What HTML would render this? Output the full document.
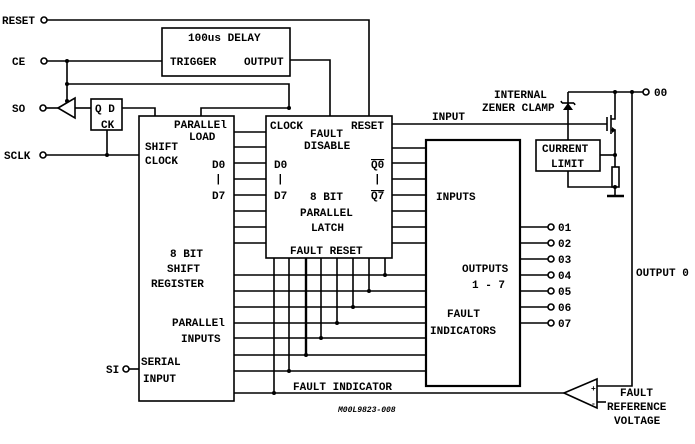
<!DOCTYPE html>
<html><head><style>
html,body{margin:0;padding:0;background:#fff}
svg text{font-family:"Liberation Mono",monospace;font-weight:bold;font-size:11px;fill:#000}
</style></head><body>
<svg width="695" height="439" viewBox="0 0 695 439" xmlns="http://www.w3.org/2000/svg">
<g stroke="#000" stroke-width="1.6" fill="none">
<!-- RESET -->
<circle cx="44" cy="20" r="3"/>
<polyline points="47,20 369,20 369,116"/>
<!-- delay box -->
<rect x="162" y="28" width="128" height="48"/>
<polyline points="290,60 330,60 330,116"/>
<!-- CE -->
<circle cx="44" cy="61" r="3"/>
<line x1="47" y1="61" x2="162" y2="61"/>
<line x1="67" y1="61" x2="67" y2="101"/>
<polyline points="67,84 289,84 289,108"/>
<!-- SO -->
<circle cx="43" cy="108" r="3"/>
<line x1="46" y1="108" x2="58" y2="108"/>
<polygon points="58,108 75,98 75,118"/>
<line x1="75" y1="108" x2="91" y2="108"/>
<rect x="91" y="99" width="31" height="31"/>
<polyline points="122,108 155,108 155,116"/>
<line x1="107" y1="130" x2="107" y2="155"/>
<!-- SCLK -->
<circle cx="43" cy="155" r="3"/>
<line x1="46" y1="155" x2="139" y2="155"/>
<polyline points="201,116 201,108 289,108"/>
<!-- shift register -->
<rect x="139" y="116" width="95" height="285"/>
<!-- latch -->
<rect x="266" y="116" width="126" height="142"/>
<!-- SR to latch -->
<line x1="234" y1="132" x2="266" y2="132"/>
<line x1="234" y1="147" x2="266" y2="147"/>
<line x1="234" y1="163" x2="266" y2="163"/>
<line x1="234" y1="179" x2="266" y2="179"/>
<line x1="234" y1="195" x2="266" y2="195"/>
<line x1="234" y1="211" x2="266" y2="211"/>
<line x1="234" y1="227" x2="266" y2="227"/>
<line x1="234" y1="243" x2="266" y2="243"/>
<!-- latch to fault box -->
<line x1="392" y1="148" x2="426" y2="148"/>
<line x1="392" y1="163" x2="426" y2="163"/>
<line x1="392" y1="179" x2="426" y2="179"/>
<line x1="392" y1="195" x2="426" y2="195"/>
<line x1="392" y1="211" x2="426" y2="211"/>
<line x1="392" y1="227" x2="426" y2="227"/>
<line x1="392" y1="243" x2="426" y2="243"/>
<!-- fault box -->
<rect x="426" y="140" width="94" height="246" stroke-width="2.2"/>
<!-- INPUT line -->
<line x1="392" y1="124" x2="607" y2="124"/>
<!-- SR to fault lines -->
<line x1="234" y1="275" x2="426" y2="275"/>
<line x1="234" y1="291" x2="426" y2="291"/>
<line x1="234" y1="307" x2="426" y2="307"/>
<line x1="234" y1="323" x2="426" y2="323"/>
<line x1="234" y1="338" x2="426" y2="338"/>
<line x1="234" y1="355" x2="426" y2="355"/>
<line x1="234" y1="371" x2="426" y2="371"/>
<!-- verticals from latch -->
<line x1="274" y1="258" x2="274" y2="393"/>
<line x1="289" y1="258" x2="289" y2="371"/>
<line x1="306" y1="258" x2="306" y2="355" stroke-width="2.4"/>
<line x1="321" y1="258" x2="321" y2="338"/>
<line x1="337" y1="258" x2="337" y2="323"/>
<line x1="353" y1="258" x2="353" y2="307"/>
<line x1="369" y1="258" x2="369" y2="291"/>
<line x1="385" y1="258" x2="385" y2="275"/>
<!-- fault indicator line -->
<line x1="234" y1="393" x2="564" y2="393"/>
<polygon points="564,393 597,379 597,408"/>
<polyline points="597,386 632,386 632,92"/>
<line x1="597" y1="402" x2="606" y2="402"/>
<!-- SI -->
<circle cx="126" cy="369" r="3"/>
<line x1="129" y1="369" x2="139" y2="369"/>
<!-- outputs -->
<line x1="520" y1="227" x2="548" y2="227"/><circle cx="551" cy="227" r="3"/>
<line x1="520" y1="243" x2="548" y2="243"/><circle cx="551" cy="243" r="3"/>
<line x1="520" y1="259" x2="548" y2="259"/><circle cx="551" cy="259" r="3"/>
<line x1="520" y1="275" x2="548" y2="275"/><circle cx="551" cy="275" r="3"/>
<line x1="520" y1="291" x2="548" y2="291"/><circle cx="551" cy="291" r="3"/>
<line x1="520" y1="307" x2="548" y2="307"/><circle cx="551" cy="307" r="3"/>
<line x1="520" y1="323" x2="548" y2="323"/><circle cx="551" cy="323" r="3"/>
<!-- right circuit -->
<line x1="568" y1="92" x2="643" y2="92"/>
<circle cx="646" cy="92" r="3"/>
<line x1="568" y1="92" x2="568" y2="140"/>
<line x1="562" y1="103" x2="574" y2="103"/>
<line x1="561" y1="101" x2="562" y2="103"/>
<line x1="574" y1="103" x2="575" y2="105"/>
<line x1="607" y1="117" x2="607" y2="131"/>
<line x1="611" y1="115" x2="611" y2="134"/>
<polyline points="611,119 615,119 615,92"/>
<polyline points="611,130 615,130 615,167"/>
<rect x="612" y="167" width="7" height="20"/>
<line x1="615" y1="187" x2="615" y2="195"/>
<line x1="607" y1="196" x2="624" y2="196" stroke-width="2.5"/>
<rect x="536" y="140" width="64" height="31"/>
<line x1="600" y1="155" x2="615" y2="155"/>
<polyline points="568,171 568,187 615,187"/>
</g>
<g fill="#000">
<polygon points="563,110 573,110 568,103"/>
<polygon points="612,127 616,130 612,133"/>
<circle cx="67" cy="61" r="2"/><circle cx="67" cy="84" r="2"/><circle cx="67" cy="101" r="2"/>
<circle cx="289" cy="108" r="2"/><circle cx="107" cy="155" r="2"/>
<circle cx="274" cy="393" r="2"/><circle cx="289" cy="371" r="2"/><circle cx="306" cy="355" r="2"/>
<circle cx="321" cy="338" r="2"/><circle cx="337" cy="323" r="2"/><circle cx="353" cy="307" r="2"/>
<circle cx="369" cy="291" r="2"/><circle cx="385" cy="275" r="2"/>
<circle cx="615" cy="92" r="2"/><circle cx="632" cy="92" r="2"/><circle cx="615" cy="155" r="2"/>
<circle cx="615" cy="187" r="2"/>
</g>
<text x="2" y="24">RESET</text>
<text x="12" y="65">CE</text>
<text x="12" y="112">SO</text>
<text x="4" y="159">SCLK</text>
<text x="106" y="373">SI</text>
<text x="188" y="41">100us DELAY</text>
<text x="170" y="65">TRIGGER</text>
<text x="244" y="65">OUTPUT</text>
<text x="95" y="112">Q D</text>
<text x="101" y="128">CK</text>
<text x="174" y="128">PARALLEl</text>
<text x="189" y="140">LOAD</text>
<text x="145" y="150">SHIFT</text>
<text x="145" y="164">CLOCK</text>
<text x="212" y="168">D0</text>
<text x="215" y="182">|</text>
<text x="212" y="199">D7</text>
<text x="170" y="257">8 BIT</text>
<text x="167" y="272">SHIFT</text>
<text x="151" y="287">REGISTER</text>
<text x="172" y="326">PARALLEl</text>
<text x="181" y="342">INPUTS</text>
<text x="141" y="365">SERIAL</text>
<text x="143" y="382">INPUT</text>
<text x="270" y="129">CLOCK</text>
<text x="351" y="129">RESET</text>
<text x="310" y="137">FAULT</text>
<text x="304" y="149">DISABLE</text>
<text x="274" y="168">D0</text>
<text x="277" y="182">|</text>
<text x="274" y="199">D7</text>
<text x="371" y="168" text-decoration="overline">Q0</text>
<text x="374" y="182">|</text>
<text x="371" y="199" text-decoration="overline">Q7</text>
<text x="310" y="200">8 BIT</text>
<text x="300" y="216">PARALLEL</text>
<text x="311" y="231">LATCH</text>
<text x="290" y="254">FAULT RESET</text>
<text x="432" y="120">INPUT</text>
<text x="494" y="98">INTERNAL</text>
<text x="482" y="111">ZENER CLAMP</text>
<text x="542" y="152">CURRENT</text>
<text x="551" y="167">LIMIT</text>
<text x="436" y="200">INPUTS</text>
<text x="462" y="272">OUTPUTS</text>
<text x="472" y="288">1 - 7</text>
<text x="447" y="317">FAULT</text>
<text x="430" y="334">INDICATORS</text>
<text x="558" y="231">01</text>
<text x="558" y="247">02</text>
<text x="558" y="263">03</text>
<text x="558" y="279">04</text>
<text x="558" y="295">05</text>
<text x="558" y="311">06</text>
<text x="558" y="327">07</text>
<text x="654" y="96">00</text>
<text x="636" y="276">OUTPUT 0</text>
<text x="293" y="390">FAULT INDICATOR</text>
<text x="620" y="396">FAULT</text>
<text x="607" y="410">REFERENCE</text>
<text x="614" y="424">VOLTAGE</text>
<text x="338" y="412" style="font-size:8px;font-style:italic">M00L9823-008</text>
<text x="591" y="391" style="font-size:8px">+</text>
<text x="591" y="406" style="font-size:8px">-</text>
</svg>
</body></html>
